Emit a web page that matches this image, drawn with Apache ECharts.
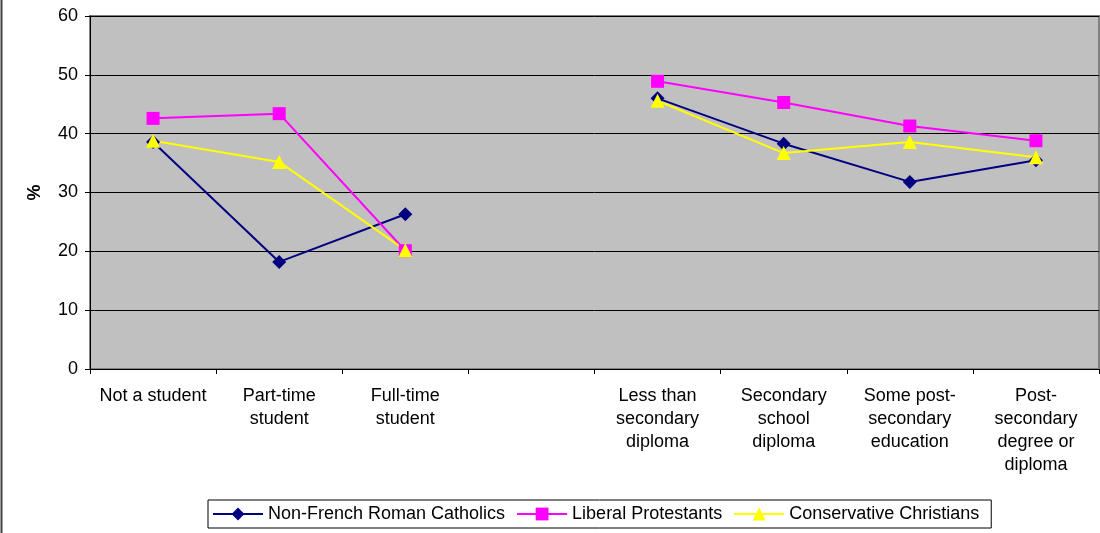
<!DOCTYPE html>
<html>
<head>
<meta charset="utf-8">
<script src="https://cdn.jsdelivr.net/npm/echarts@6/dist/echarts.min.js"></script>
<style>html,body{margin:0;padding:0;background:#fff}#c{width:1100px;height:533px}</style>
</head>
<body>
<div id="c"></div>
<script>
var categories = ["Not a student", "Part-time\nstudent", "Full-time\nstudent", "",
  "Less than\nsecondary\ndiploma", "Secondary\nschool\ndiploma", "Some post-\nsecondary\neducation", "Post-\nsecondary\ndegree or\ndiploma"];
var nonFrenchRC = [38.6, 18.2, 26.3, null, 46.0, 38.3, 31.8, 35.5];
var liberalProt = [42.6, 43.4, 20.1, null, 48.9, 45.3, 41.3, 38.8];
var conservChr  = [38.8, 35.2, 20.2, null, 45.6, 36.7, 38.6, 36.0];
var yTicks = {min: 0, max: 60, interval: 10};

var FONT = "Liberation Sans";
var FS = 18;
var chart = echarts.init(document.getElementById('c'));
function mk(name, data, color, symbol, size) {
  return {
    name: name, type: 'line', data: data, connectNulls: false,
    symbol: symbol, symbolSize: size,
    lineStyle: {color: color, width: 2},
    itemStyle: {color: color, borderWidth: 0},
    emphasis: {disabled: true}, animation: false
  };
}
chart.setOption({
  animation: false,
  textStyle: {fontFamily: FONT, color: '#000'},
  grid: {left: 90, right: 1, top: 16, bottom: 164, show: true,
    backgroundColor: '#C0C0C0', borderColor: '#808080', borderWidth: 2},
  xAxis: {
    type: 'category', data: categories, boundaryGap: true,
    axisLine: {lineStyle: {color: '#000', width: 1}},
    axisTick: {show: true, interval: 0, length: 5, lineStyle: {color: '#000'}},
    axisLabel: {interval: 0, color: '#000', fontSize: FS, fontFamily: FONT, margin: 16, lineHeight: 23}
  },
  yAxis: {
    type: 'value', min: yTicks.min, max: yTicks.max, interval: yTicks.interval,
    name: '%', nameLocation: 'middle', nameGap: 46, nameRotate: 90,
    nameTextStyle: {fontSize: FS, fontWeight: 'bold', color: '#000', fontFamily: FONT},
    axisLine: {show: true, lineStyle: {color: '#000', width: 1}},
    axisTick: {show: true, length: 5, lineStyle: {color: '#000'}},
    axisLabel: {color: '#000', fontSize: FS, fontFamily: FONT, margin: 12},
    splitLine: {show: true, lineStyle: {color: '#000', width: 1}}
  },
  legend: {
    left: 208, top: 500, orient: 'horizontal',
    borderColor: '#000', borderWidth: 1, padding: [5, 12, 5, 4],
    itemWidth: 50, itemHeight: 16, itemGap: 11,
    textStyle: {fontSize: FS, color: '#000', fontFamily: FONT},
    data: ['Non-French Roman Catholics', 'Liberal Protestants', 'Conservative Christians']
  },
  graphic: [{type: 'line', shape: {x1: 1.5, y1: 0, x2: 1.5, y2: 533}, style: {stroke: '#404040', lineWidth: 2}}],
  series: [
    mk('Non-French Roman Catholics', nonFrenchRC, '#000080', 'diamond', 14),
    mk('Liberal Protestants', liberalProt, '#FF00FF', 'rect', 13),
    mk('Conservative Christians', conservChr, '#FFFF00', 'triangle', 14)
  ]
});
</script>
</body>
</html>
